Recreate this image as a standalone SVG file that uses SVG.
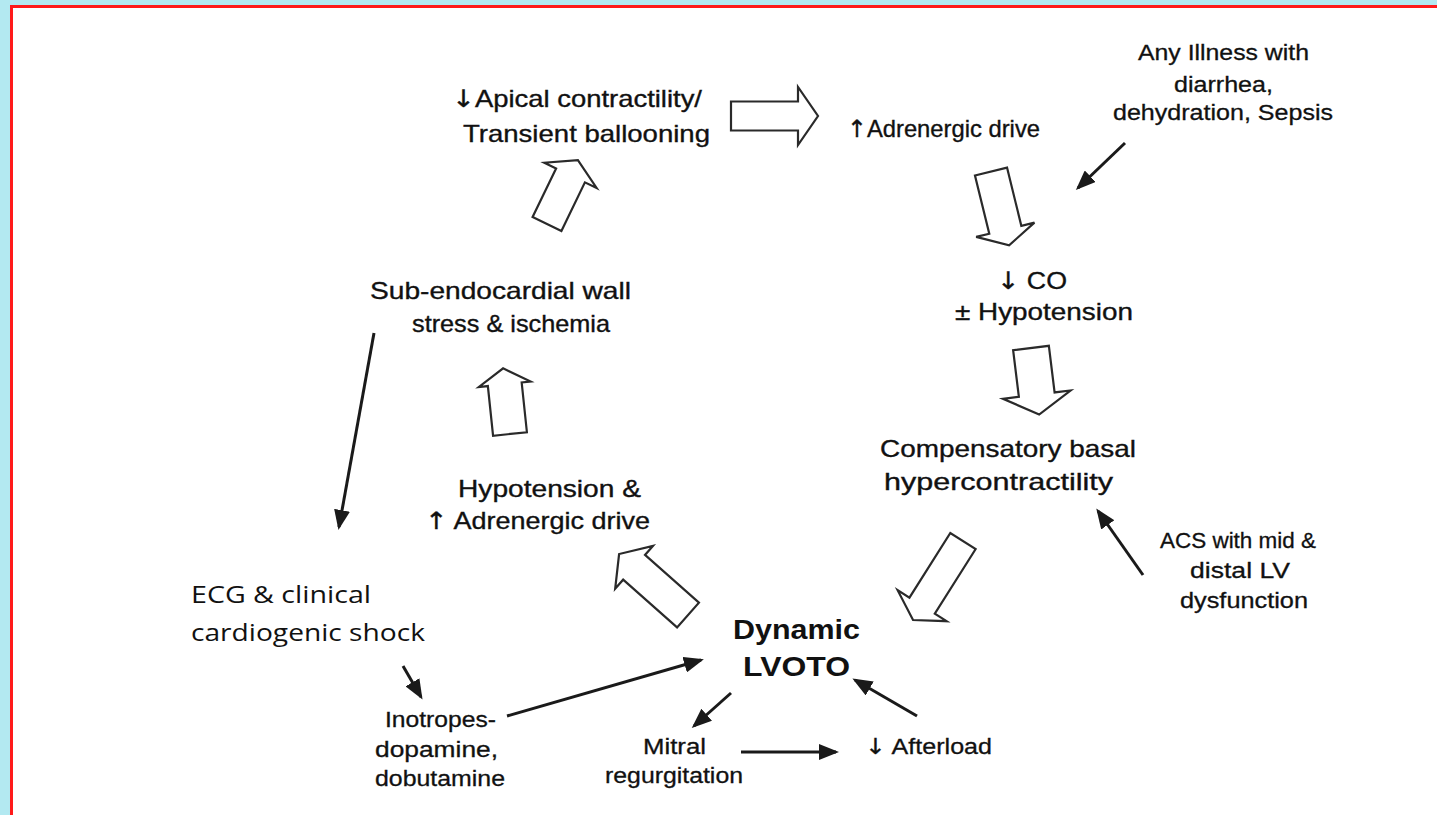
<svg xmlns="http://www.w3.org/2000/svg" width="1437" height="815" viewBox="0 0 1437 815">
<style>
.t{font-family:"Liberation Sans",Arial,sans-serif;font-size:24px;fill:#111;stroke:#111;stroke-width:0.35}
.s{font-family:"Liberation Sans",Arial,sans-serif;font-size:22px;fill:#111;stroke:#111;stroke-width:0.3}
.b{font-family:"Liberation Sans",Arial,sans-serif;font-size:27px;font-weight:bold;fill:#111}
.c{font-family:"Open Sans","Noto Sans",sans-serif;font-size:23px;fill:#111}
.ar{font-family:"DejaVu Sans",sans-serif;fill:#111}
.blk{fill:#fff;stroke:#2a2a2a;stroke-width:2.2;stroke-linejoin:miter}
.ln{stroke:#1a1a1a;stroke-width:3;fill:none;marker-end:url(#ah)}
</style>
<defs>
<marker id="ah" markerUnits="userSpaceOnUse" markerWidth="20" markerHeight="16" refX="17" refY="8" orient="auto">
<path d="M0,0 L20,8 L0,16 Z" fill="#1a1a1a"/>
</marker>
</defs>
<rect x="0" y="0" width="1437" height="815" fill="#b3e9f1"/>
<rect x="11.5" y="6.5" width="1440" height="820" fill="#fff" stroke="#ff1a1a" stroke-width="3"/>

<g id="apical">
<text class="t" x="452" y="107" textLength="250" lengthAdjust="spacingAndGlyphs"><tspan class="ar">↓</tspan>Apical contractility/</text>
<text class="t" x="463" y="142" textLength="247" lengthAdjust="spacingAndGlyphs">Transient ballooning</text>
</g>
<g id="adrenergic">
<text class="t" x="847" y="137" textLength="193" lengthAdjust="spacingAndGlyphs"><tspan class="ar">↑</tspan>Adrenergic drive</text>
</g>
<g id="illness">
<text class="s" x="1138" y="60" textLength="171" lengthAdjust="spacingAndGlyphs">Any Illness with</text>
<text class="s" x="1174" y="92" textLength="99" lengthAdjust="spacingAndGlyphs">diarrhea,</text>
<text class="s" x="1113" y="120" textLength="220" lengthAdjust="spacingAndGlyphs">dehydration, Sepsis</text>
</g>
<g id="co">
<text class="t" x="997" y="289" textLength="70" lengthAdjust="spacingAndGlyphs"><tspan class="ar">↓</tspan> CO</text>
<text class="t" x="955" y="320" textLength="178" lengthAdjust="spacingAndGlyphs">± Hypotension</text>
</g>
<g id="compensatory">
<text class="t" x="880" y="457" textLength="256" lengthAdjust="spacingAndGlyphs">Compensatory basal</text>
<text class="t" x="884" y="490" textLength="229" lengthAdjust="spacingAndGlyphs">hypercontractility</text>
</g>
<g id="acs">
<text class="s" x="1160" y="548" textLength="156" lengthAdjust="spacingAndGlyphs">ACS with mid &amp;</text>
<text class="s" x="1190" y="578" textLength="100" lengthAdjust="spacingAndGlyphs">distal LV</text>
<text class="s" x="1180" y="608" textLength="128" lengthAdjust="spacingAndGlyphs">dysfunction</text>
</g>
<g id="subendo">
<text class="t" x="370" y="299" textLength="261" lengthAdjust="spacingAndGlyphs">Sub-endocardial wall</text>
<text class="t" x="412" y="332" textLength="198" lengthAdjust="spacingAndGlyphs">stress &amp; ischemia</text>
</g>
<g id="hypotension">
<text class="t" x="458" y="497" textLength="183" lengthAdjust="spacingAndGlyphs">Hypotension &amp;</text>
<text class="t" x="425" y="529" textLength="225" lengthAdjust="spacingAndGlyphs"><tspan class="ar">↑</tspan> Adrenergic drive</text>
</g>
<g id="ecg">
<text class="c" x="191" y="603" textLength="180" lengthAdjust="spacingAndGlyphs">ECG &amp; clinical</text>
<text class="c" x="191" y="641" textLength="234" lengthAdjust="spacingAndGlyphs">cardiogenic shock</text>
</g>
<g id="lvoto">
<text class="b" x="733" y="639" textLength="127" lengthAdjust="spacingAndGlyphs">Dynamic</text>
<text class="b" x="743" y="676" textLength="107" lengthAdjust="spacingAndGlyphs">LVOTO</text>
</g>
<g id="inotropes">
<text class="s" x="385" y="727" textLength="111" lengthAdjust="spacingAndGlyphs">Inotropes-</text>
<text class="s" x="375" y="757" textLength="123" lengthAdjust="spacingAndGlyphs">dopamine,</text>
<text class="s" x="375" y="786" textLength="130" lengthAdjust="spacingAndGlyphs">dobutamine</text>
</g>
<g id="mitral">
<text class="s" x="643" y="754" textLength="63" lengthAdjust="spacingAndGlyphs">Mitral</text>
<text class="s" x="605" y="783" textLength="138" lengthAdjust="spacingAndGlyphs">regurgitation</text>
</g>
<g id="afterload">
<text class="s" x="865" y="754" textLength="127" lengthAdjust="spacingAndGlyphs"><tspan class="ar">↓</tspan> Afterload</text>
</g>

<g id="connectors">
<polygon class="blk" transform="translate(731,116)" points="0,-14.5 67,-14.5 67,-29 87,0 67,29 67,14.5 0,14.5"/>
<polygon class="blk" transform="translate(991,171.5) rotate(76.2)" points="0,-16.5 60,-16.5 60,-30 76,0 60,30 60,16.5 0,16.5"/>
<polygon class="blk" transform="translate(1031,348) rotate(83)" points="0,-18 47,-18 47,-34 67,0 47,34 47,18 0,18"/>
<polygon class="blk" transform="translate(963,541) rotate(122.3)" points="0,-15 76.5,-15 76.5,-29 93.5,0 76.5,29 76.5,15 0,15"/>
<polygon class="blk" transform="translate(688,615) rotate(-138.5)" points="0,-16.5 72,-16.5 72,-28.5 92,0 72,28.5 72,16.5 0,16.5"/>
<polygon class="blk" transform="translate(510,434) rotate(-96)" points="0,-17 50,-17 50,-26 66,0 50,26 50,17 0,17"/>
<polygon class="blk" transform="translate(547,224) rotate(-64.2)" points="0,-16 54,-16 54,-29 71,0 54,29 54,16 0,16"/>

<line class="ln" x1="1125" y1="143" x2="1078" y2="188"/>
<line class="ln" x1="374" y1="333" x2="339" y2="527"/>
<line class="ln" x1="1143" y1="575" x2="1098" y2="511"/>
<line class="ln" x1="403" y1="666" x2="421" y2="697"/>
<line class="ln" x1="507" y1="716" x2="701" y2="660"/>
<line class="ln" x1="731" y1="693" x2="694" y2="726"/>
<line class="ln" x1="741" y1="752" x2="836" y2="752"/>
<line class="ln" x1="917" y1="716" x2="855" y2="680"/>
</g>
</svg>
